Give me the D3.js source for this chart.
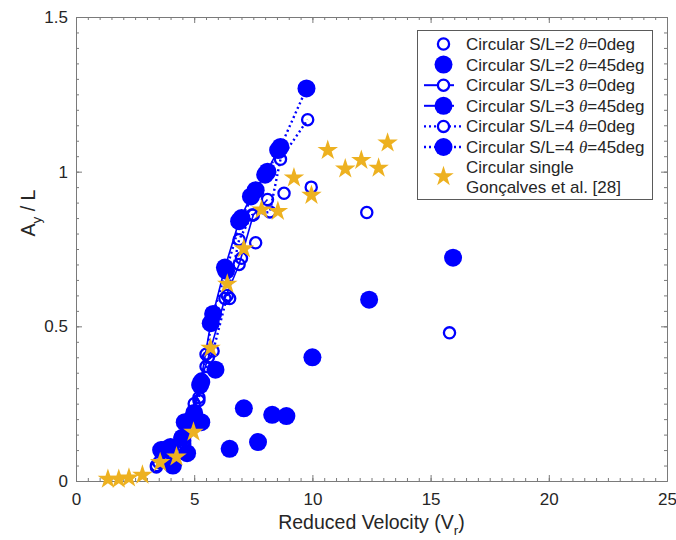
<!DOCTYPE html>
<html>
<head>
<meta charset="utf-8">
<script src="https://cdn.jsdelivr.net/npm/d3@7"></script>
<style>
  html, body { margin: 0; padding: 0; background: #fff; }
  svg { display: block; font-family: "Liberation Sans", Arial, Helvetica, sans-serif; }
</style>
</head>
<body>
<svg id="chart" width="676" height="540"></svg>
<script>
// Response amplitude A_y/L versus reduced velocity for circular cylinders

const xTicks = [0, 5, 10, 15, 20, 25];
const yTicks = [0, 0.5, 1, 1.5];
const yTickLabels = ["0", "0.5", "1", "1.5"];

// S/L=2, theta=0deg (open, no line)
const velSL2deg0 = [3.4, 4.0, 4.6, 5.2, 5.5, 6.5, 7.0, 7.6, 8.8, 9.95, 12.3, 15.8];
const ampSL2deg0 = [0.045, 0.09, 0.12, 0.26, 0.41, 0.59, 0.72, 0.77, 0.93, 0.95, 0.868, 0.479];

// S/L=2, theta=45deg (filled, no line)
const velSL2deg45 = [4.7, 5.3, 5.9, 6.5, 7.1, 7.7, 8.3, 8.9, 10.0, 12.4, 15.95];
const ampSL2deg45 = [0.09, 0.19, 0.36, 0.104, 0.235, 0.126, 0.214, 0.21, 0.40, 0.586, 0.722];

// S/L=3, theta=0deg (open, solid line)
const velSL3deg0 = [3.4, 3.8, 4.4, 5.0, 5.3, 5.6, 6.3, 6.9, 7.5, 8.1];
const ampSL3deg0 = [0.05, 0.08, 0.14, 0.25, 0.33, 0.40, 0.59, 0.70, 0.86, 0.91];

// S/L=3, theta=45deg (filled, solid line)
const velSL3deg45 = [3.6, 4.0, 4.5, 4.9, 5.25, 5.7, 6.3, 6.9, 7.4, 8.0, 8.55];
const ampSL3deg45 = [0.10, 0.11, 0.14, 0.20, 0.31, 0.51, 0.69, 0.84, 0.92, 0.99, 1.07];

// S/L=4, theta=0deg (open, dotted line)
const velSL4deg0 = [3.5, 4.0, 4.6, 5.2, 5.5, 5.8, 6.4, 6.9, 7.45, 8.2, 8.65, 9.8];
const ampSL4deg0 = [0.06, 0.09, 0.13, 0.27, 0.37, 0.42, 0.60, 0.78, 0.86, 0.87, 1.04, 1.168];

// S/L=4, theta=45deg (filled, dotted line)
const velSL4deg45 = [3.7, 4.1, 4.6, 5.0, 5.3, 5.8, 6.35, 7.0, 7.6, 8.1, 8.65, 9.75];
const ampSL4deg45 = [0.10, 0.05, 0.19, 0.22, 0.32, 0.54, 0.68, 0.85, 0.94, 1.00, 1.08, 1.269];

// Circular single cylinder, Gonçalves et al. [28]
const velSingle = [1.35, 1.81, 2.24, 2.81, 3.56, 4.25, 4.97, 5.69, 6.40, 7.10, 7.85, 8.54, 9.22, 9.96, 10.65, 11.39, 12.07, 12.80, 13.18];
const ampSingle = [0.006, 0.006, 0.01, 0.019, 0.06, 0.078, 0.158, 0.43, 0.637, 0.751, 0.877, 0.872, 0.98, 0.924, 1.069, 1.009, 1.037, 1.012, 1.093];

const BLUE = "#0000ff";
const GOLD = "#edb120";
const AXIS = "#7a7a7a";
const TEXT = "#262626";

const svg = d3.select("#chart");
const L = 76, R = 667, T = 17, B = 481;
const x = d3.scaleLinear().domain([0, 25]).range([L, R]);
const y = d3.scaleLinear().domain([0, 1.5]).range([B, T]);

// frame and ticks
function styleAxis(g) {
  g.select(".domain").attr("stroke", AXIS).attr("stroke-width", 1);
  g.selectAll(".tick line").attr("stroke", AXIS).attr("stroke-width", 1);
  g.selectAll(".tick text").attr("fill", TEXT).style("font-size", "17px")
    .style("font-family", "'Liberation Sans', Arial, sans-serif");
}
const xMinor = d3.range(0, 25.001, 0.5);
const yMinor = d3.range(0, 1.5001, 0.05);

svg.append("g").attr("transform", `translate(0,${B})`)
  .call(d3.axisBottom(x).tickValues(xMinor).tickSize(-3).tickFormat("").tickSizeOuter(0)).call(styleAxis);
svg.append("g").attr("transform", `translate(0,${B})`)
  .call(d3.axisBottom(x).tickValues(xTicks).tickSize(-6).tickSizeOuter(0).tickPadding(12).tickFormat(d3.format("d")))
  .call(styleAxis);
svg.append("g").attr("transform", `translate(0,${T})`)
  .call(d3.axisTop(x).tickValues(xMinor).tickSize(-3).tickFormat("").tickSizeOuter(0)).call(styleAxis);
svg.append("g").attr("transform", `translate(0,${T})`)
  .call(d3.axisTop(x).tickValues(xTicks).tickSize(-6).tickFormat("").tickSizeOuter(0)).call(styleAxis);

svg.append("g").attr("transform", `translate(${L},0)`)
  .call(d3.axisLeft(y).tickValues(yMinor).tickSize(-3).tickFormat("").tickSizeOuter(0)).call(styleAxis);
svg.append("g").attr("transform", `translate(${L},0)`)
  .call(d3.axisLeft(y).tickValues(yTicks).tickSize(-6).tickSizeOuter(0).tickPadding(8)
    .tickFormat((d, i) => yTickLabels[i]))
  .call(styleAxis);
svg.append("g").attr("transform", `translate(${R},0)`)
  .call(d3.axisRight(y).tickValues(yMinor).tickSize(-3).tickFormat("").tickSizeOuter(0)).call(styleAxis);
svg.append("g").attr("transform", `translate(${R},0)`)
  .call(d3.axisRight(y).tickValues(yTicks).tickSize(-6).tickFormat("").tickSizeOuter(0)).call(styleAxis);

// axis titles
const xt = svg.append("text").attr("x", (L + R) / 2).attr("y", 529)
  .attr("text-anchor", "middle").attr("fill", TEXT).style("font-size", "19.5px");
xt.append("tspan").text("Reduced Velocity (V");
xt.append("tspan").attr("dy", 6).style("font-size", "13.5px").text("r");
xt.append("tspan").attr("dy", -6).text(")");

const yt = svg.append("text").attr("transform", "translate(35,213) rotate(-90)")
  .attr("text-anchor", "middle").attr("fill", TEXT).style("font-size", "19.5px");
yt.append("tspan").text("A");
yt.append("tspan").attr("dy", 6).style("font-size", "13.5px").text("y");
yt.append("tspan").attr("dy", -6).text(" / L");

// series
const zip = (vs, as) => vs.map((v, i) => ({ v, a: as[i] }));
const series = [
  { name: "Circular S/L=2 ", deg: "=0deg", data: zip(velSL2deg0, ampSL2deg0), filled: false, line: null },
  { name: "Circular S/L=2 ", deg: "=45deg", data: zip(velSL2deg45, ampSL2deg45), filled: true, line: null },
  { name: "Circular S/L=3 ", deg: "=0deg", data: zip(velSL3deg0, ampSL3deg0), filled: false, line: "solid" },
  { name: "Circular S/L=3 ", deg: "=45deg", data: zip(velSL3deg45, ampSL3deg45), filled: true, line: "solid" },
  { name: "Circular S/L=4 ", deg: "=0deg", data: zip(velSL4deg0, ampSL4deg0), filled: false, line: "dotted" },
  { name: "Circular S/L=4 ", deg: "=45deg", data: zip(velSL4deg45, ampSL4deg45), filled: true, line: "dotted" }
];

const plot = svg.append("g");
const lineGen = d3.line().x(d => x(d.v)).y(d => y(d.a));

function drawMarker(g, cx, cy, filled) {
  if (filled) {
    g.append("circle").attr("cx", cx).attr("cy", cy).attr("r", 9).attr("fill", BLUE);
  } else {
    g.append("circle").attr("cx", cx).attr("cy", cy).attr("r", 5.6)
      .attr("fill", "none").attr("stroke", BLUE).attr("stroke-width", 2.3);
  }
}

series.forEach(s => {
  const g = plot.append("g");
  if (s.line) {
    g.append("path").datum(s.data).attr("d", lineGen).attr("fill", "none")
      .attr("stroke", BLUE).attr("stroke-width", s.line === "dotted" ? 2.4 : 1.6)
      .attr("stroke-dasharray", s.line === "dotted" ? "2,3" : null);
  }
  s.data.forEach(d => drawMarker(g, x(d.v), y(d.a), s.filled));
});

const star = d3.symbol().type(d3.symbolStar).size(130);
plot.append("g").selectAll("path").data(zip(velSingle, ampSingle)).join("path")
  .attr("transform", d => `translate(${x(d.v)},${y(d.a)})`)
  .attr("d", star).attr("fill", GOLD);

// legend
const lg = svg.append("g");
lg.append("rect").attr("x", 417.5).attr("y", 30.5).attr("width", 235).attr("height", 169)
  .attr("fill", "#fff").attr("stroke", "#5a5a5a").attr("stroke-width", 1);
const rowY = [44, 64.6, 85.2, 105.8, 126.4, 147, 166.5];
const mx = 443.5, tx = 466;
series.forEach((s, i) => {
  const cy = rowY[i];
  if (s.line) {
    lg.append("line").attr("x1", 424).attr("x2", s.line === "dotted" ? 462 : 454).attr("y1", cy).attr("y2", cy)
      .attr("stroke", BLUE).attr("stroke-width", s.line === "dotted" ? 2.4 : 2)
      .attr("stroke-dasharray", s.line === "dotted" ? "2,3" : null);
  }
  if (s.filled) {
    lg.append("circle").attr("cx", mx).attr("cy", cy).attr("r", 9).attr("fill", BLUE);
  } else {
    lg.append("circle").attr("cx", mx).attr("cy", cy).attr("r", 5.6)
      .attr("fill", "#fff").attr("stroke", BLUE).attr("stroke-width", 2.3);
  }
  const t = lg.append("text").attr("x", tx).attr("y", cy + 6).attr("fill", TEXT)
    .style("font-size", "17px");
  t.append("tspan").text(s.name);
  t.append("tspan").style("font-family", "'Liberation Serif', 'Times New Roman', serif")
    .style("font-style", "italic").text("\u03b8");
  t.append("tspan").text(s.deg);
});
lg.append("path").attr("transform", `translate(${mx},${176.5})`).attr("d", star).attr("fill", GOLD);
lg.append("text").attr("x", tx).attr("y", 172.5).attr("fill", TEXT).style("font-size", "17px")
  .text("Circular single");
lg.append("text").attr("x", tx).attr("y", 193).attr("fill", TEXT).style("font-size", "17px")
  .text("Gonçalves et al. [28]");
</script>
</body>
</html>
